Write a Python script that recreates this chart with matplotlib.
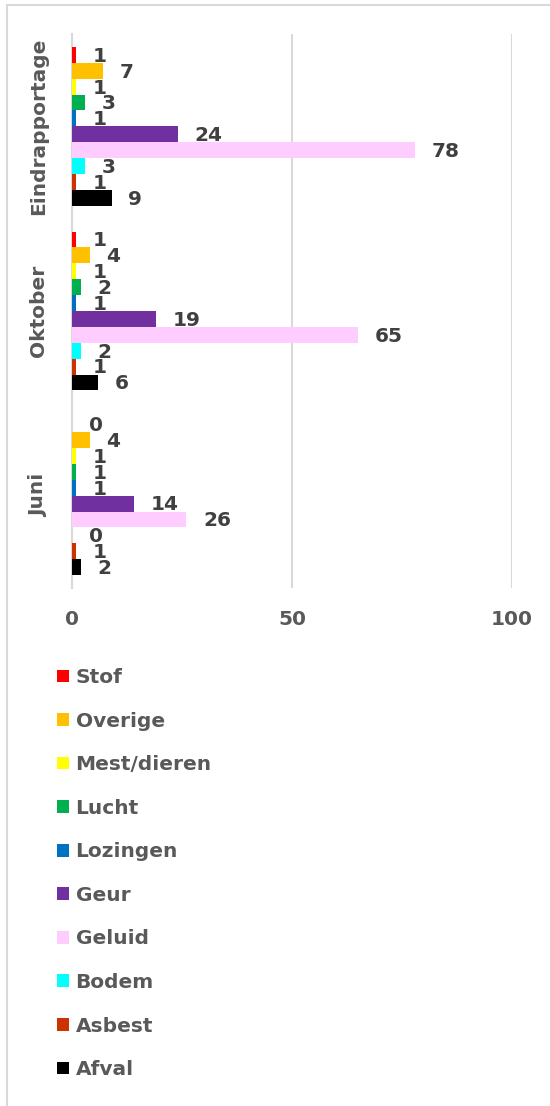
import matplotlib
matplotlib.use("Agg")
import matplotlib.pyplot as plt
from matplotlib.patches import Rectangle, Patch
import numpy as np

plt.rcParams['font.family'] = ['DejaVu Sans']

categories = ['Juni', 'Oktober', 'Eindrapportage']
series = ['Stof', 'Overige', 'Mest/dieren', 'Lucht', 'Lozingen', 'Geur', 'Geluid', 'Bodem', 'Asbest', 'Afval']
colors = ['#FF0000', '#FFC000', '#FFFF00', '#00B050', '#0070C0', '#7030A0', '#FFCCFF', '#00FFFF', '#CC3300', '#000000']

# values per series, in order of categories (Juni, Oktober, Eindrapportage)
stof = [0, 1, 1]
overige = [4, 4, 7]
mest = [1, 1, 1]
lucht = [1, 2, 3]
lozingen = [1, 1, 1]
geur = [14, 19, 24]
geluid = [26, 65, 78]
bodem = [0, 2, 3]
asbest = [1, 1, 1]
afval = [2, 6, 9]
values = [stof, overige, mest, lucht, lozingen, geur, geluid, bodem, asbest, afval]
xticks = [0, 50, 100]

W, H = 550, 1106
FS = 14.5
fig = plt.figure(figsize=(W / 100, H / 100), dpi=100)
ax = fig.add_axes([72 / W, 1 - 588 / H, 440 / W, 554 / H])

n = len(series)
h = 0.086
y = np.arange(len(categories))
for i, (name, vals, col) in enumerate(zip(series, values, colors)):
    ypos = y + (n / 2 - 0.5 - i) * h
    ax.barh(ypos, vals, height=h, color=col, label=name, zorder=3)
    for yy, v in zip(ypos, vals):
        ax.annotate(str(v), xy=(v, yy), xytext=(12, -1), textcoords='offset points',
                    ha='left', va='center', fontsize=FS, fontweight='bold', color='#404040',
                    zorder=4)

ax.set_xlim(0, 100)
ax.set_ylim(-0.5, 2.5)
ax.set_xticks(xticks)
ax.set_yticks(y)
ax.set_yticklabels(categories, rotation=90, va='center')
ax.xaxis.grid(True, color='#D9D9D9', linewidth=1.5, zorder=0)
ax.set_axisbelow(True)
for s in ['top', 'right', 'bottom']:
    ax.spines[s].set_visible(False)
ax.spines['left'].set_color('#D9D9D9')
ax.spines['left'].set_linewidth(1.5)
ax.tick_params(axis='both', length=0, labelsize=FS, labelcolor='#595959')
ax.tick_params(axis='x', pad=16)
ax.tick_params(axis='y', pad=17)
for lab in ax.get_xticklabels() + ax.get_yticklabels():
    lab.set_fontweight('bold')

handles = [Patch(facecolor=c, edgecolor='none') for c in colors]
leg = fig.legend(handles, series, loc='upper left', bbox_to_anchor=(57 / W, 1 - 668 / H),
                 frameon=False, fontsize=FS, handlelength=0.62, handleheight=0.6,
                 handletextpad=0.3, labelspacing=1.22, borderaxespad=0, borderpad=0)
for t in leg.get_texts():
    t.set_color('#595959')
    t.set_fontweight('bold')

fig.add_artist(Rectangle((7 / W, -0.1), 1.2, 1 - 5 / H + 0.1, transform=fig.transFigure,
                         fill=False, edgecolor='#D9D9D9', linewidth=1.5))

fig.savefig('out.png', dpi=100)
